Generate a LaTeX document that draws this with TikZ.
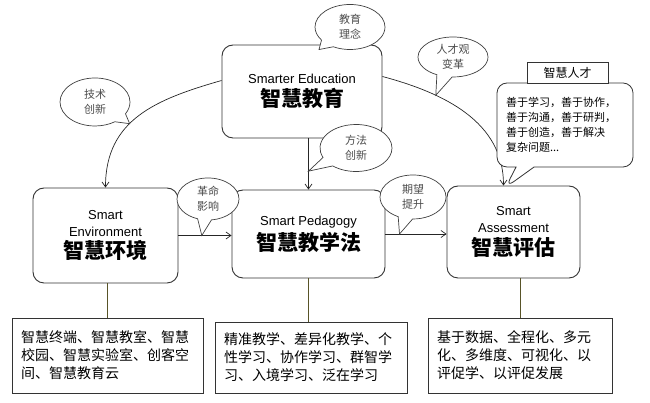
\documentclass[tikz,border=0pt]{standalone}
\usepackage{fontspec}
\setmainfont{Liberation Sans}
\newfontfamily\cjk{Noto Sans CJK SC}
\usetikzlibrary{shapes.callouts,arrows.meta}
\definecolor{stemline}{RGB}{88,84,40}
\newcommand\entext{\fontsize{13}{17}\selectfont}
\newcommand\zhtitle{\cjk\bfseries\fontsize{21}{26}\selectfont}

\begin{document}
\begin{tikzpicture}[x=1pt,y=1pt,
  box/.style={draw=black!80, line width=0.9pt, rounded corners=11pt, fill=white,
    align=center, inner sep=0pt, font=\entext},
  note/.style={draw=black!80, line width=0.8pt, fill=white, align=left,
    inner xsep=9pt, inner ysep=0pt, font=\cjk\fontsize{14}{18}\selectfont},
  bubble/.style={ellipse callout, draw=black!75, line width=0.7pt, fill=white,
    callout pointer arc=26, align=center, inner sep=0pt, text=black!70,
    font=\cjk\fontsize{11}{15}\selectfont},
  link/.style={-{Straight Barb[length=5pt,width=7pt]}, line width=0.7pt, black!85},
  stem/.style={line width=0.9pt, stemline}]
  \useasboundingbox (0,0) rectangle (650,403);

  % the four boxes
  \node[box, minimum width=160pt, minimum height=93pt] (edu) at (302,311.5)
    {Smarter Education\\[3pt]{\zhtitle 智慧教育}};
  \node[box, minimum width=145pt, minimum height=95pt] (env) at (105.5,167.5)
    {Smart\\Environment\\[3pt]{\zhtitle 智慧环境}};
  \node[box, minimum width=153pt, minimum height=88pt] (ped) at (308.5,169)
    {Smart Pedagogy\\[3pt]{\zhtitle 智慧教学法}};
  \node[box, minimum width=133pt, minimum height=92pt] (assess) at (513.5,171)
    {Smart\\Assessment\\[3pt]{\zhtitle 智慧评估}};

  % the notes below
  \node[note, text width=173pt, minimum height=75pt] (note1) at (107.5,47.5)
    {智慧终端、智慧教室、智慧\\校园、智慧实验室、创客空\\间、智慧教育云};
  \node[note, text width=174pt, minimum height=71pt] (note2) at (311,45.5)
    {精准教学、差异化教学、个\\性学习、协作学习、群智学\\习、入境学习、泛在学习};
  \node[note, text width=166pt, minimum height=75pt] (note3) at (520,47.5)
    {基于数据、全程化、多元\\化、多维度、可视化、以\\评促学、以评促发展};

  % connectors
  \draw[link] ([yshift=11pt]edu.west) to[out=196,in=90,looseness=1.1]
    coordinate[pos=0.58] (tech) (env.north);
  \draw[link] ([yshift=15pt]edu.east) to[out=-15,in=90]
    coordinate[pos=0.3] (talent) ([xshift=-10pt]assess.north);
  \draw[link] (edu.south -| ped.north) -- coordinate[pos=0.64] (method) (ped.north);
  \draw[link] (env.east) -- coordinate[pos=0.44] (impact) (env.east -| ped.west);
  \draw[link] (ped.east) -- coordinate[pos=0.23] (hope) (ped.east -| assess.west);
  \draw[stem] (note1.north) -- (note1.north |- env.south);
  \draw[stem] (ped.south) -- (ped.south |- note2.north);
  \draw[stem] (note3.north) -- (note3.north |- assess.south);

  % bubbles
  \coordinate (ideatip) at ([xshift=17pt,yshift=-5pt]edu.north);
  \coordinate (peopletip) at ([xshift=-8pt,yshift=-2pt]assess.north);
  \node[bubble, minimum width=70pt, minimum height=45pt,
    callout absolute pointer=(ideatip)] (idea) at (350,376) {教育\\理念};
  \node[bubble, minimum width=70pt, minimum height=48pt,
    callout absolute pointer=(tech)] (techb) at (95,301) {技术\\创新};
  \node[bubble, minimum width=70pt, minimum height=40pt,
    callout absolute pointer=(talent)] (talentb) at (453,346) {人才观\\变革};
  \node[bubble, minimum width=72pt, minimum height=47pt,
    callout absolute pointer=(method)] (methodb) at (356,255) {方法\\创新};
  \node[bubble, minimum width=62pt, minimum height=42pt,
    callout absolute pointer=(impact)] (impactb) at (208,204) {革命\\影响};
  \node[bubble, minimum width=66pt, minimum height=44pt,
    callout absolute pointer=(hope)] (hopeb) at (413,206) {期望\\提升};

  \node[rectangle callout, draw=black!80, line width=0.8pt, fill=white,
    rounded corners=10pt, minimum width=136pt, minimum height=84pt,
    callout absolute pointer=(peopletip), callout pointer width=18pt,
    text width=118pt, align=left, inner sep=0pt,
    font=\cjk\fontsize{11}{15}\selectfont] (people) at (565,278)
    {善于学习，善于协作，\\善于沟通，善于研判，\\善于创造，善于解决\\复杂问题...};
  \node[draw=black!80, line width=0.8pt, fill=white, minimum width=81pt,
    minimum height=21pt, inner sep=0pt, font=\cjk\fontsize{12}{14}\selectfont]
    (tag) at (567.5,330.5) {智慧人才};
\end{tikzpicture}
\end{document}
